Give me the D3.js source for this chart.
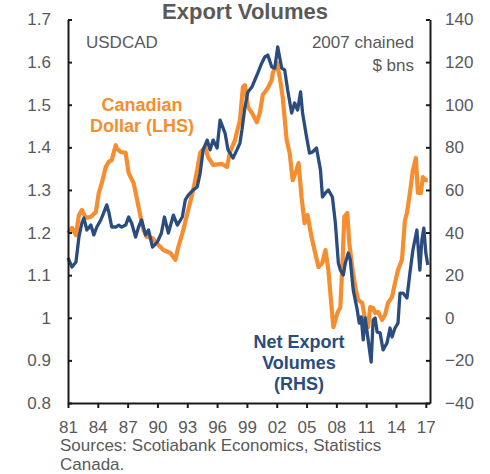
<!DOCTYPE html>
<html>
<head>
<meta charset="utf-8">
<script src="https://cdn.jsdelivr.net/npm/d3@7"></script>
<style>
body { margin:0; background:#fff; }
text { font-family: "Liberation Sans", Arial, sans-serif; }
</style>
</head>
<body>
<svg id="graph1"></svg>
<script>
// USDCAD (LHS), decimal year + level
var cadDates = [1981.0,1981.4,1981.8,1982.1,1982.4,1982.8,1983.3,1983.8,1984.1,1984.4,1984.8,1985.1,1985.4,1985.8,1985.9,1986.3,1986.8,1987.1,1987.6,1987.9,1988.3,1988.6,1988.9,1989.5,1990.0,1990.6,1991.3,1991.8,1992.1,1992.6,1993.1,1993.6,1994.0,1994.3,1994.8,1995.1,1995.6,1996.5,1997.0,1997.3,1997.8,1998.3,1998.6,1998.8,1999.1,1999.5,2000.0,2000.3,2000.6,2001.1,2001.5,2001.6,2002.0,2002.3,2002.6,2003.0,2003.3,2003.6,2004.0,2004.2,2004.5,2004.8,2005.1,2005.5,2005.8,2006.2,2006.6,2006.9,2007.2,2007.6,2007.7,2008.1,2008.4,2008.6,2008.8,2009.1,2009.3,2009.6,2009.9,2010.2,2010.6,2010.9,2011.2,2011.4,2011.7,2011.9,2012.2,2012.6,2012.9,2013.2,2013.6,2013.9,2014.2,2014.6,2014.9,2015.1,2015.4,2015.7,2016.0,2016.2,2016.5,2016.7,2017.0,2017.2]
var cadValues = [1.199,1.211,1.194,1.241,1.253,1.234,1.237,1.248,1.293,1.316,1.354,1.366,1.370,1.405,1.398,1.389,1.387,1.340,1.316,1.283,1.237,1.206,1.190,1.187,1.173,1.159,1.152,1.136,1.166,1.206,1.253,1.300,1.347,1.387,1.401,1.377,1.359,1.361,1.354,1.389,1.417,1.464,1.542,1.546,1.495,1.481,1.459,1.481,1.523,1.539,1.558,1.574,1.598,1.565,1.518,1.417,1.387,1.323,1.347,1.363,1.283,1.222,1.241,1.190,1.159,1.119,1.129,1.159,1.112,1.002,0.978,1.011,1.025,1.119,1.237,1.246,1.175,1.119,1.072,1.042,1.035,0.995,0.978,1.025,1.023,1.011,1.014,0.995,1.007,1.035,1.049,1.082,1.112,1.136,1.229,1.246,1.293,1.347,1.375,1.293,1.293,1.330,1.323,1.323]

// Net export volumes (RHS), 2007 chained $ bns
var nxDates = [1981.0,1981.4,1981.8,1982.1,1982.4,1982.6,1982.9,1983.3,1983.6,1983.9,1984.3,1984.5,1984.9,1985.1,1985.4,1985.8,1986.1,1986.4,1986.8,1987.1,1987.4,1987.8,1988.1,1988.4,1988.8,1989.1,1989.5,1990.0,1990.4,1990.7,1991.1,1991.6,1992.0,1992.5,1992.8,1993.1,1993.6,1994.0,1994.3,1994.6,1995.0,1995.3,1995.6,1996.0,1996.3,1996.8,1997.1,1997.6,1998.0,1998.3,1998.5,1998.8,1999.1,1999.5,1999.8,2000.1,2000.5,2000.8,2001.1,2001.5,2001.8,2002.1,2002.5,2002.8,2003.1,2003.5,2003.8,2004.1,2004.4,2004.6,2005.0,2005.3,2005.6,2006.0,2006.4,2006.6,2006.9,2007.2,2007.6,2007.9,2008.2,2008.4,2008.7,2008.9,2009.2,2009.4,2009.7,2010.1,2010.3,2010.5,2010.7,2010.9,2011.2,2011.5,2011.7,2011.9,2012.1,2012.4,2012.7,2013.1,2013.4,2013.6,2013.9,2014.2,2014.4,2014.7,2015.1,2015.4,2015.7,2016.1,2016.4,2016.6,2016.8,2017.0,2017.2]
var nxValues = [28.1,23.8,26.2,37.9,44.5,46.8,41.2,43.5,38.9,42.6,45.9,48.2,53.0,49.7,42.6,42.6,43.5,42.6,43.5,47.3,44.5,37.9,42.6,45.9,38.9,41.2,33.2,35.6,39.8,47.3,39.8,48.2,43.5,47.3,55.3,57.6,60.0,61.4,68.0,78.8,83.4,78.8,83.4,79.7,92.8,86.7,78.8,75.0,78.8,82.0,88.1,98.9,106.0,108.3,111.6,114.9,119.6,122.4,123.3,117.7,117.2,127.1,117.2,116.3,106.9,96.1,100.8,97.5,106.0,96.1,84.9,77.3,77.8,79.7,69.4,56.7,58.6,60.0,56.7,44.5,25.7,22.4,20.1,25.7,30.4,27.1,13.0,3.7,-2.5,0.4,-10.4,-0.1,-10.4,-20.8,-1.0,-0.1,-6.7,-7.1,-15.1,-11.8,-4.8,-9.0,-4.8,-2.5,11.6,11.6,9.3,21.0,31.8,41.2,22.4,36.5,42.1,30.4,24.8]

var xTicks = [1981,1984,1987,1990,1993,1996,1999,2002,2005,2008,2011,2014,2017]
var leftTicks = [0.8,0.9,1.0,1.1,1.2,1.3,1.4,1.5,1.6,1.7]
var rightTicks = [-40,-20,0,20,40,60,80,100,120,140]

var screen = {width: 490, height: 474}
var plot = {left: 68, right: 430, top: 19.5, bottom: 403}
var grey = "#595959"
var orange = "#F68D2E"
var navy = "#2B4C7E"

var svg = d3.select("#graph1")
    .attr("width", screen.width)
    .attr("height", screen.height)

var xScale = d3.scaleLinear()
    .domain([1981, 2017.42])
    .range([plot.left, plot.right])

var yLeft = d3.scaleLinear()
    .domain([0.8, 1.7])
    .range([plot.bottom, plot.top])

var yRight = d3.scaleLinear()
    .domain([-40, 140])
    .range([plot.bottom, plot.top])

// lines
var cadLine = d3.line()
    .x(function(d) { return xScale(d[0]) })
    .y(function(d) { return yLeft(d[1]) })

var nxLine = d3.line()
    .x(function(d) { return xScale(d[0]) })
    .y(function(d) { return yRight(d[1]) })

svg.append("path")
    .datum(d3.zip(cadDates, cadValues))
    .attr("d", cadLine)
    .attr("fill", "none")
    .attr("stroke", orange)
    .attr("stroke-width", 4.2)
    .attr("stroke-linejoin", "round")

svg.append("path")
    .datum(d3.zip(nxDates, nxValues))
    .attr("d", nxLine)
    .attr("fill", "none")
    .attr("stroke", navy)
    .attr("stroke-width", 3.3)
    .attr("stroke-linejoin", "round")

// axes
var styleAxis = function(g)
{
    g.selectAll(".domain").attr("stroke", "#1a1a1a").attr("stroke-width", 2)
    g.selectAll(".tick line").attr("stroke", "#1a1a1a").attr("stroke-width", 2)
    g.selectAll(".tick text")
        .attr("fill", grey)
        .style("font-size", "17px")
        .style("font-family", "'Liberation Sans', Arial, sans-serif")
}

svg.append("g")
    .attr("transform", "translate(" + plot.left + ",0)")
    .call(d3.axisLeft(yLeft)
        .tickValues(leftTicks)
        .tickSizeInner(-4)
        .tickSizeOuter(0)
        .tickPadding(17)
        .tickFormat(function(d) { return d3.format(".1f")(d).replace(/^1\.0$/, "1") }))
    .call(styleAxis)

svg.append("g")
    .attr("transform", "translate(" + plot.right + ",0)")
    .call(d3.axisRight(yRight)
        .tickValues(rightTicks)
        .tickSizeInner(-4)
        .tickSizeOuter(0)
        .tickPadding(15))
    .call(styleAxis)

svg.append("g")
    .attr("transform", "translate(0," + plot.bottom + ")")
    .call(d3.axisBottom(xScale)
        .tickValues(xTicks)
        .tickSizeInner(5)
        .tickSizeOuter(0)
        .tickPadding(13)
        .tickFormat(function(d) { return d3.format("02d")(d % 100) }))
    .call(styleAxis)

// labels
var labels = svg.append("g")

labels.append("text")
    .text("Export Volumes")
    .attr("x", 245).attr("y", 19)
    .attr("text-anchor", "middle")
    .attr("fill", grey)
    .style("font-size", "22px").style("font-weight", "bold")

labels.append("text").text("USDCAD")
    .attr("x", 86).attr("y", 48)
    .attr("fill", grey).style("font-size", "17px")

labels.append("text").text("2007 chained")
    .attr("x", 414).attr("y", 48).attr("text-anchor", "end")
    .attr("fill", grey).style("font-size", "17px")

labels.append("text").text("$ bns")
    .attr("x", 414).attr("y", 71).attr("text-anchor", "end")
    .attr("fill", grey).style("font-size", "17px")

var cadLab = ["Canadian", "Dollar (LHS)"]
labels.selectAll(".cad")
    .data(cadLab)
    .enter()
    .append("text")
    .text(function(d) { return d })
    .attr("x", 142)
    .attr("y", function(d, i) { return 111 + i * 21 })
    .attr("text-anchor", "middle")
    .attr("fill", orange)
    .style("font-size", "18px").style("font-weight", "bold")

var nxLab = ["Net Export", "Volumes", "(RHS)"]
labels.selectAll(".nx")
    .data(nxLab)
    .enter()
    .append("text")
    .text(function(d) { return d })
    .attr("x", 299)
    .attr("y", function(d, i) { return 348 + i * 21 })
    .attr("text-anchor", "middle")
    .attr("fill", navy)
    .style("font-size", "18px").style("font-weight", "bold")

labels.append("text").text("Sources: Scotiabank Economics, Statistics")
    .attr("x", 60).attr("y", 451)
    .attr("fill", grey).style("font-size", "17px")

labels.append("text").text("Canada.")
    .attr("x", 60).attr("y", 470)
    .attr("fill", grey).style("font-size", "17px")
</script>
</body>
</html>
